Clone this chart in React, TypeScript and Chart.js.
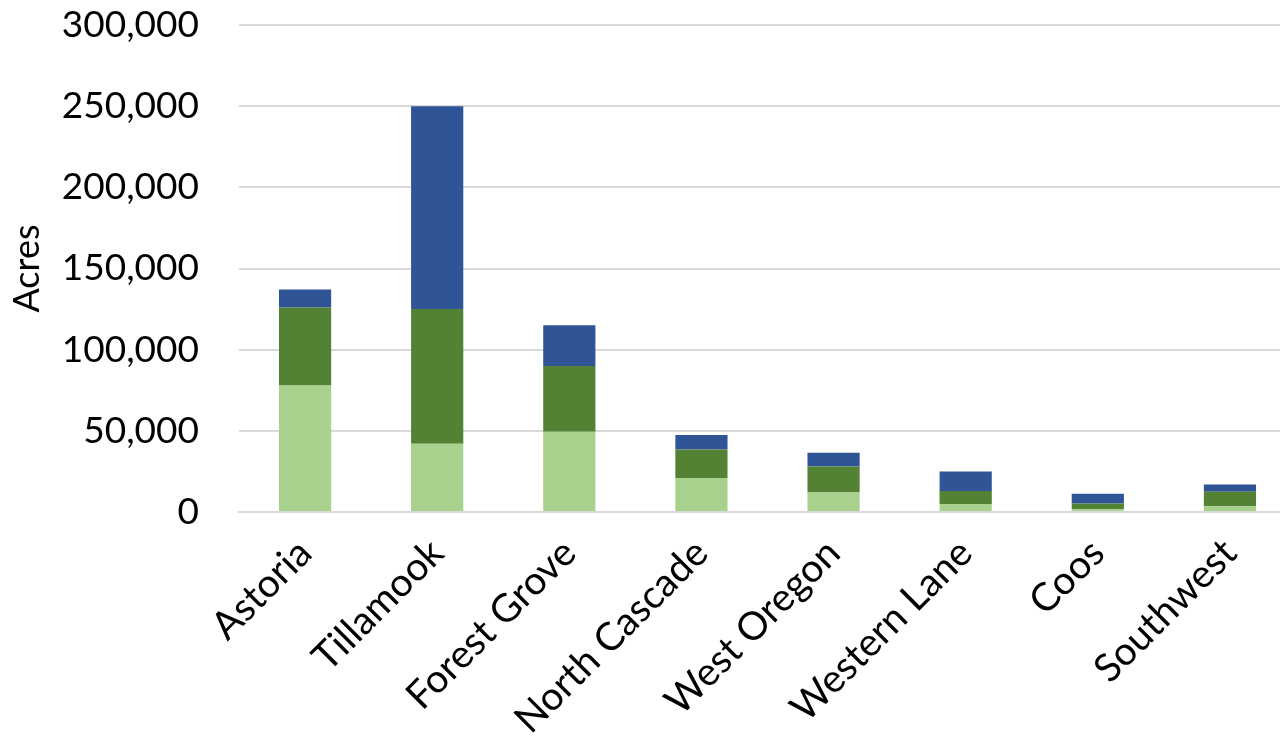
import React, { useEffect, useRef } from "react";
import { Chart, registerables } from "chart.js";

Chart.register(...registerables);

const categories = ["Astoria", "Tillamook", "Forest Grove", "North Cascade", "West Oregon", "Western Lane", "Coos", "Southwest"];
const lightValues = [78000, 42000, 49500, 21000, 12000, 5000, 1700, 3500];
const greenValues = [48000, 83000, 40500, 17500, 16000, 8000, 3500, 9000];
const blueValues = [11000, 125000, 25000, 9000, 8500, 12000, 6000, 4500];
const yTicks = [0, 50000, 100000, 150000, 200000, 250000, 300000];

const FONT = "Lato, 'Open Sans', sans-serif";

export default function App() {
  const ref = useRef<HTMLCanvasElement | null>(null);
  useEffect(() => {
    document.body.style.overflow = "hidden";
    if (!ref.current) return;
    const chart = new Chart(ref.current, {
      type: "bar",
      data: {
        labels: categories,
        datasets: [
          { label: "Light", data: lightValues, backgroundColor: "#A9D18E", barPercentage: 0.395, categoryPercentage: 1 },
          { label: "Green", data: greenValues, backgroundColor: "#548235", barPercentage: 0.395, categoryPercentage: 1 },
          { label: "Blue", data: blueValues, backgroundColor: "#2F5597", barPercentage: 0.395, categoryPercentage: 1 },
        ],
      },
      options: {
        animation: false,
        responsive: false,
        maintainAspectRatio: false,
        layout: { padding: { top: 25, left: 0, right: 0, bottom: 0 } },
        plugins: { legend: { display: false }, tooltip: { enabled: false } },
        scales: {
          x: {
            stacked: true,
            grid: { display: false, drawTicks: false },
            border: { display: true, color: "#D9D9D9", width: 2 },
            ticks: {
              color: "#000",
              font: { family: FONT, size: 39 },
              minRotation: 45,
              maxRotation: 45,
              padding: 18,
            },
            afterFit: (scale: any) => {
              scale.height = 235;
              scale.paddingLeft = 0;
              scale.paddingRight = 0;
            },
          },
          y: {
            stacked: true,
            min: 0,
            max: 300000,
            afterBuildTicks: (scale: any) => {
              scale.ticks = yTicks.map((v) => ({ value: v }));
            },
            grid: { color: "#D9D9D9", lineWidth: 2, drawTicks: false },
            border: { display: false },
            ticks: {
              color: "#000",
              font: { family: FONT, size: 37 },
              padding: 40,
              callback: (v: any) => Number(v).toLocaleString("en-US"),
            },
            title: {
              display: true,
              text: "Acres",
              color: "#000",
              font: { family: FONT, size: 36 },
              padding: { top: 6, bottom: 0 },
            },
            afterFit: (scale: any) => {
              scale.width = 239;
              scale.paddingTop = 0;
              scale.paddingBottom = 0;
            },
          },
        },
      },
    });
    return () => chart.destroy();
  }, []);
  return (
    <div style={{ position: "absolute", left: 0, top: 0, width: 1296, height: 747 }}>
      <canvas ref={ref} width={1296} height={747} style={{ width: 1296, height: 747, display: "block" }} />
    </div>
  );
}
